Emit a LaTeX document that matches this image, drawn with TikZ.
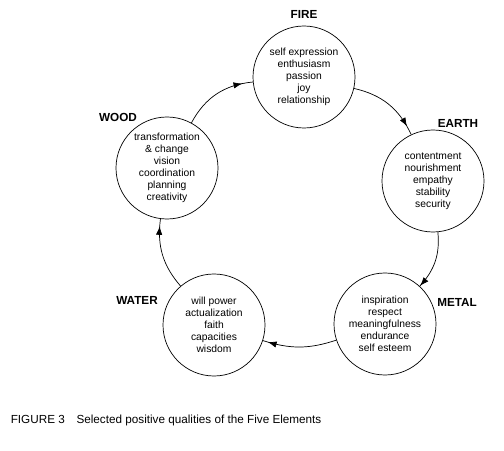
\documentclass[tikz,border=0pt]{standalone}
\usepackage{fontspec}
\setmainfont{Liberation Sans}
\usetikzlibrary{
    arrows.meta,
    positioning,
    decorations.markings
}
\tikzset{
    % Element circle style
    element/.style={
        circle,
        draw=black,
        line width=0.6pt,
        minimum size=3.06cm,
        inner sep=0pt,
        align=center,
        font=\fontsize{8.8}{10.3}\selectfont
    },
    % Element name style
    element name/.style={
        font=\fontsize{10}{12}\selectfont\bfseries
    },
    % Arrow style (tip at given position)
    flow/.style={
        line width=0.6pt,
        decoration={markings, mark=at position #1 with {\arrow{Latex[length=2.6mm, width=1.9mm]}}},
        postaction={decorate}
    },
    % Caption style
    caption/.style={
        font=\fontsize{10}{12}\selectfont,
        anchor=west
    }
}

\begin{document}
\begin{tikzpicture}

        \useasboundingbox[fill=white] (0,0) rectangle (15.12,13.5);

        % Elements
        \node[element] (fire) at (9.12, 11.19) {self expression\\enthusiasm\\passion\\joy\\relationship};
        \node[element] (earth) at (12.99, 8.07) {contentment\\nourishment\\empathy\\stability\\security};
        \node[element] (metal) at (11.55, 3.78) {inspiration\\respect\\meaningfulness\\endurance\\self esteem};
        \node[element] (water) at (6.42, 3.75) {will power\\actualization\\faith\\capacities\\wisdom};
        \node[element] (wood) at (5.01, 8.46) {transformation\\\& change\\vision\\coordination\\planning\\creativity};

        % Names
        \node[element name] (firename) at (9.12, 13.08) {FIRE};
        \node[element name] (earthname) at (13.74, 9.81) {EARTH};
        \node[element name] (metalname) at (13.71, 4.44) {METAL};
        \node[element name] (watername) at (4.11, 4.5) {WATER};
        \node[element name] (woodname) at (3.54, 9.99) {WOOD};

        % Connections
        \draw[flow=0.86] (wood) to[bend left=28] (fire);
        \draw[flow=0.88] (fire) to[bend left=26] (earth);
        \draw[flow=0.99] (earth) to[bend left=24] (metal);
        \draw[flow=0.93] (metal) to[bend left=18] (water);
        \draw[flow=0.9] (water) to[bend left=24] (wood);

        % Caption
        \node[caption] (cap) at (0.2, 0.9) {FIGURE 3\hspace{1em}Selected positive qualities of the Five Elements};

    \end{tikzpicture}
\end{document}
